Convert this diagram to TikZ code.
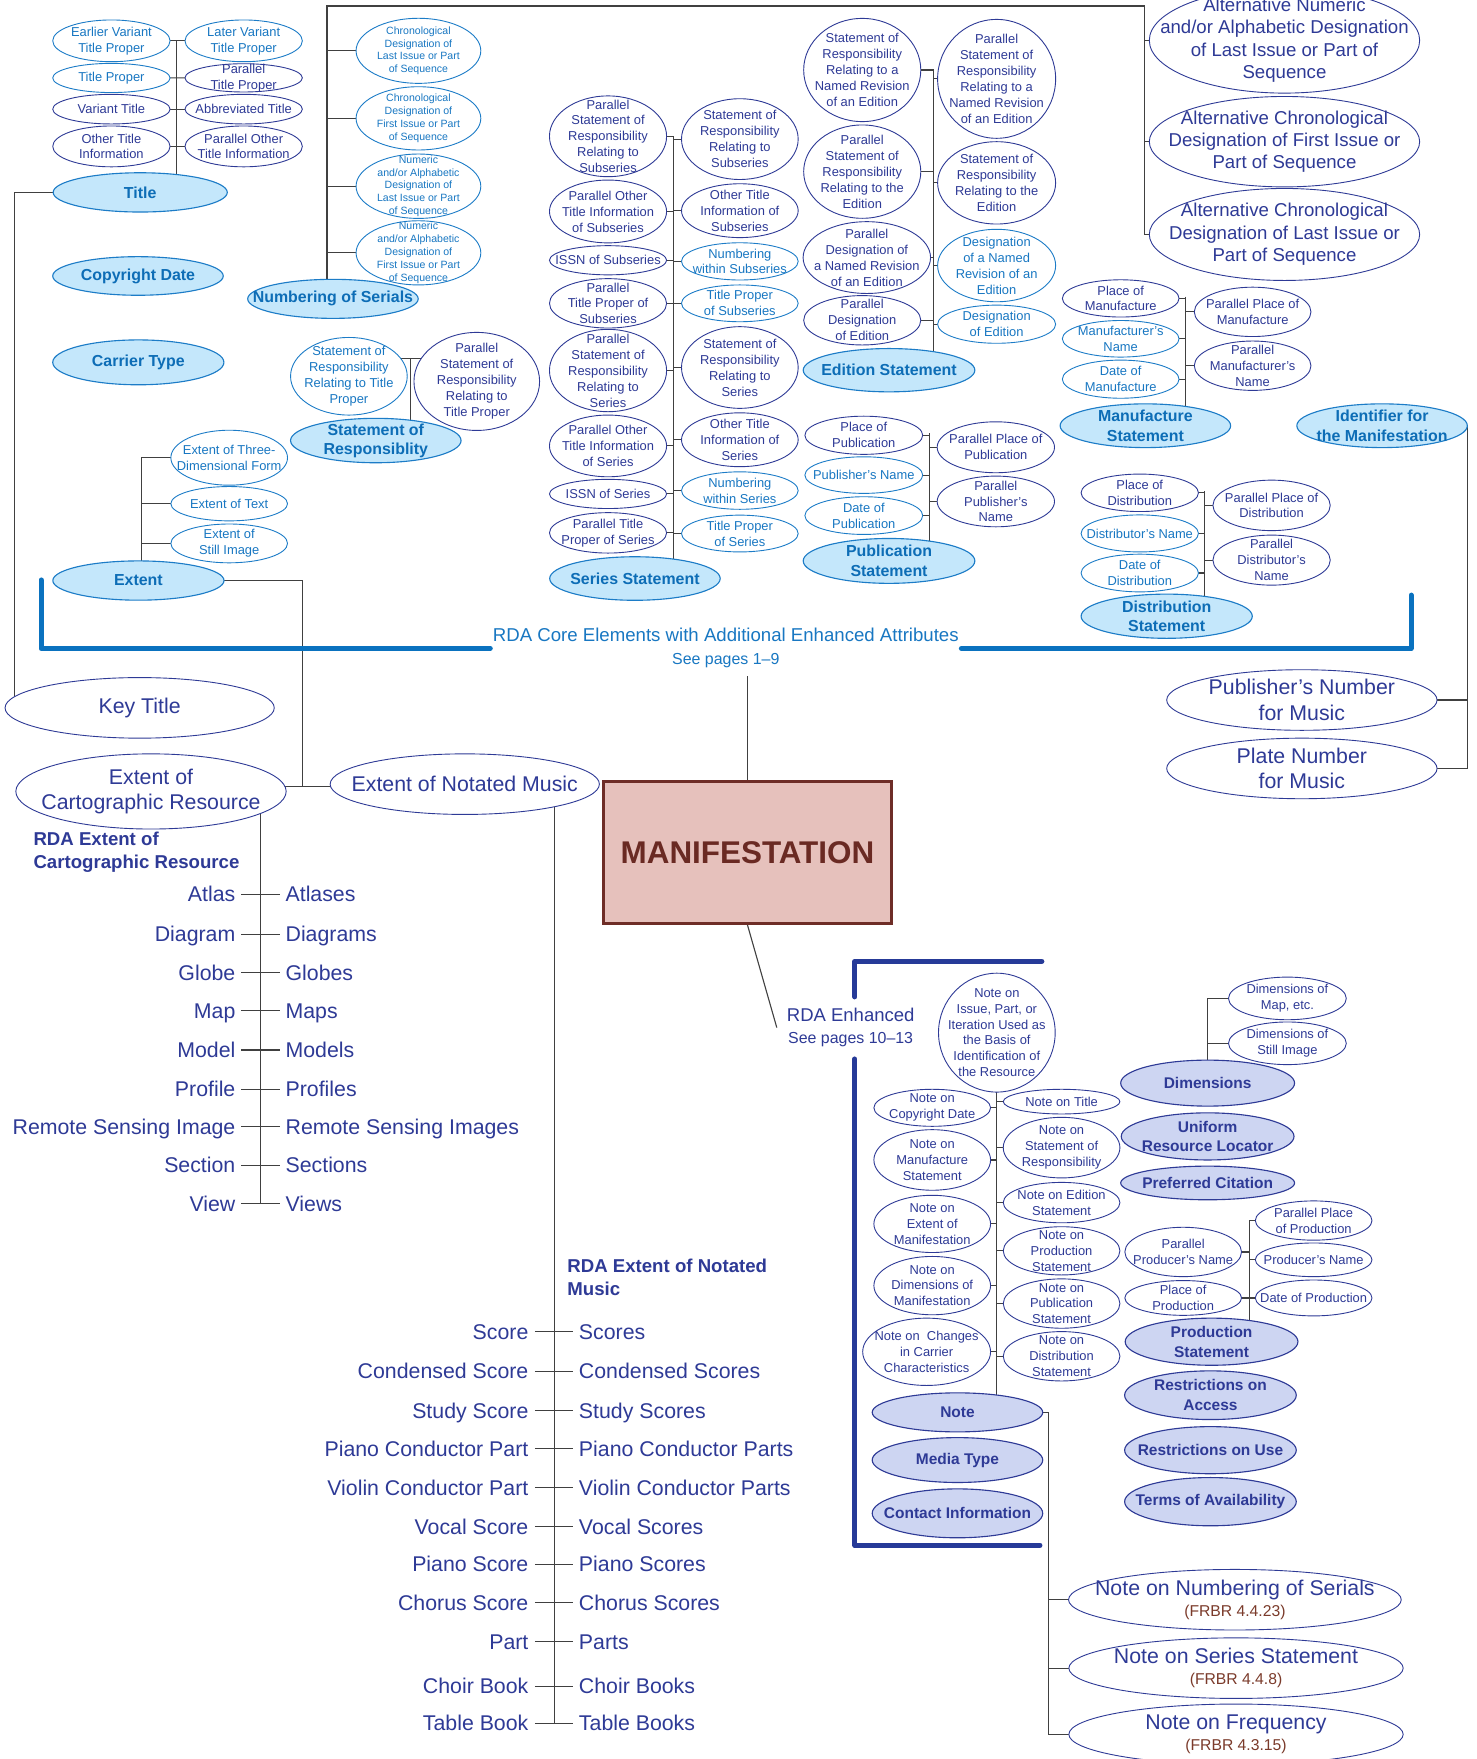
\documentclass[tikz,border=0pt]{standalone}
\usepackage{fontspec}
\setmainfont{Liberation Sans}
\usetikzlibrary{shapes.geometric}
\pgfdeclarelayer{bg}
\pgfdeclarelayer{fg}
\pgfsetlayers{bg,main,fg}

\definecolor{navy}{HTML}{2E3A96}
\definecolor{coreline}{HTML}{1C7CC7}
\definecolor{coretext}{HTML}{1877C2}
\definecolor{corebold}{HTML}{0D6DB6}
\definecolor{corefill}{HTML}{C4E7FB}
\definecolor{lavfill}{HTML}{CDD5F2}
\definecolor{corebar}{HTML}{0A72BF}
\definecolor{enhbar}{HTML}{263A98}
\definecolor{manfill}{HTML}{E6C1BC}
\definecolor{manline}{HTML}{6E2D27}
\definecolor{mantext}{HTML}{6A2A23}
\definecolor{frbr}{HTML}{7B3B2B}
\definecolor{linegray}{HTML}{404040}

\tikzset{
  ebase/.style={ellipse, inner sep=0pt, outer sep=0pt, line width=0.8pt},
  coreE/.style={ebase, draw=coreline, fill=white},
  enhE/.style={ebase, draw=navy, fill=white},
  coreF/.style={ebase, draw=coreline, fill=corefill, line width=1pt},
  lavF/.style={ebase, draw=navy, fill=lavfill, line width=1pt},
  txt/.style={align=center, inner sep=0pt, outer sep=0pt},
  coreT/.style={txt, text=coretext, font=\fontsize{11.5}{14.2}\selectfont},
  enhT/.style={txt, text=navy, font=\fontsize{11.5}{14.2}\selectfont},
  coreS/.style={txt, text=coretext, font=\fontsize{9.4}{11.5}\selectfont},
  coreB/.style={txt, text=corebold, font=\bfseries\fontsize{14.2}{17.2}\selectfont},
  lavB/.style={txt, text=navy, font=\bfseries\fontsize{13.8}{17.5}\selectfont},
  bigT/.style={txt, text=navy, font=\fontsize{19}{23}\selectfont},
  altT/.style={txt, text=navy, font=\fontsize{16.6}{20}\selectfont},
  noteT/.style={txt, text=navy, font=\fontsize{19}{18.5}\selectfont},
  headT/.style={align=left, inner sep=0pt, text=navy, font=\bfseries\fontsize{16.6}{20.5}\selectfont, anchor=west},
  listL/.style={inner sep=0pt, text=navy, font=\fontsize{19}{23}\selectfont, anchor=east, text height=13.6pt, text depth=0pt},
  listR/.style={listL, anchor=west},
  link/.style={draw=linegray, line width=1pt},
  bar/.style={line width=4.5pt, line cap=round, line join=round},
}

% ellipse with its label: shape style, text style, name, x, y, rx, ry, text
\newcommand{\Ell}[8]{%
  \node[#1, minimum width={2*(#6)}, minimum height={2*(#7)}] (#3) at (#4,#5) {};
  \begin{pgfonlayer}{fg}\node[#2] (#3-t) at (#3.center) {#8};\end{pgfonlayer}%
}

\begin{document}
\begin{tikzpicture}[x=1pt,y=-1pt]
\useasboundingbox (0,0) rectangle (1316,1568);
\begin{pgfonlayer}{bg}\fill[white] (0,0) rectangle (1316,1568);\end{pgfonlayer}
\clip (0,0) rectangle (1316,1568);

% ---------- Title ----------
\Ell{coreE}{coreT}{evtp}{99.3}{36.4}{52.3}{18.6}{Earlier Variant\\Title Proper}
\Ell{coreE}{coreT}{lvtp}{217.2}{36.4}{52.3}{18.6}{Later Variant\\Title Proper}
\Ell{coreE}{coreT}{tp}{99.3}{69.5}{52.3}{13}{Title Proper}
\Ell{enhE}{enhT}{ptp}{217.2}{69.4}{52.3}{12.6}{Parallel\\Title Proper}
\Ell{enhE}{enhT}{vt}{99.3}{97.3}{52.3}{13.2}{Variant Title}
\Ell{enhE}{enhT}{abt}{217.2}{97.3}{52.3}{13.2}{Abbreviated Title}
\Ell{enhE}{enhT}{oti}{99.3}{130.5}{52.3}{18.2}{Other Title\\Information}
\Ell{enhE}{enhT}{poti}{217.2}{130.5}{52.3}{18.2}{Parallel Other\\Title Information}
\Ell{coreF}{coreB}{title}{125}{171.5}{77.6}{17.5}{Title}
\Ell{coreF}{coreB}{copy}{123}{246}{76}{17.2}{Copyright Date}
\Ell{coreF}{coreB}{carrier}{123.3}{323}{76.3}{20}{Carrier Type}

% ---------- Numbering of Serials ----------
\Ell{coreE}{coreS}{cdl}{373}{45.3}{55.6}{29}{Chronological\\Designation of\\Last Issue or Part\\of Sequence}
\Ell{coreE}{coreS}{cdf}{373}{105.5}{55.6}{28.2}{Chronological\\Designation of\\First Issue or Part\\of Sequence}
\Ell{coreE}{coreS}{ndl}{373}{166}{55.6}{28.7}{Numeric\\and/or Alphabetic\\Designation of\\Last Issue or Part\\of Sequence}
\Ell{coreE}{coreS}{ndf}{373}{225.4}{55.6}{28.6}{Numeric\\and/or Alphabetic\\Designation of\\First Issue or Part\\of Sequence}
\Ell{coreF}{coreB}{nos}{296.8}{266.4}{76}{17.4}{Numbering of Serials}
\Ell{enhE}{altT}{altn}{1145}{36}{120.5}{47}{Alternative Numeric\\and/or Alphabetic Designation\\of Last Issue or Part of\\Sequence}
\Ell{enhE}{altT}{altf}{1145}{126.3}{120.5}{40.3}{Alternative Chronological\\Designation of First Issue or\\Part of Sequence}
\Ell{enhE}{altT}{altl}{1145}{209}{120.5}{41}{Alternative Chronological\\Designation of Last Issue or\\Part of Sequence}

% ---------- Statement of Responsibility ----------
\Ell{coreE}{coreT}{sortp}{311}{335.4}{52}{34.6}{Statement of\\Responsibility\\Relating to Title\\Proper}
\Ell{enhE}{enhT}{psortp}{425}{340}{56}{43.7}{Parallel\\Statement of\\Responsibility\\Relating to\\Title Proper}
\Ell{coreF}{coreB}{sor}{335}{392.7}{76}{19.8}{Statement of\\Responsiblity}

% ---------- Extent ----------
\Ell{coreE}{coreT}{e3d}{204.3}{408}{52}{24.5}{Extent of Three-\\Dimensional Form}
\Ell{coreE}{coreT}{etext}{204.3}{449}{52}{15.3}{Extent of Text}
\Ell{coreE}{coreT}{estill}{204.3}{484.4}{52}{17.3}{Extent of\\Still Image}
\Ell{coreF}{coreB}{extent}{123.4}{517.5}{76.3}{17.5}{Extent}

% ---------- Series Statement ----------
\Ell{enhE}{enhT}{pssub}{542}{121.5}{52.2}{36}{Parallel\\Statement of\\Responsibility\\Relating to\\Subseries}
\Ell{enhE}{enhT}{ssub}{659.5}{124}{52}{36}{Statement of\\Responsibility\\Relating to\\Subseries}
\Ell{enhE}{enhT}{potsub}{542}{188.5}{52.2}{28}{Parallel Other\\Title Information\\of Subseries}
\Ell{enhE}{enhT}{otsub}{659.5}{187.8}{52}{24}{Other Title\\Information of\\Subseries}
\Ell{enhE}{enhT}{issnsub}{542}{232}{52.2}{13}{ISSN of Subseries}
\Ell{coreE}{coreT}{nsub}{659.5}{233}{52}{16.6}{Numbering\\within Subseries}
\Ell{enhE}{enhT}{ptpsub}{542}{270.4}{52.2}{22}{Parallel\\Title Proper of\\Subseries}
\Ell{coreE}{coreT}{tpsub}{659.5}{270.4}{52}{16.4}{Title Proper\\of Subseries}
\Ell{enhE}{enhT}{psser}{542}{330.3}{52.2}{36.7}{Parallel\\Statement of\\Responsibility\\Relating to\\Series}
\Ell{enhE}{enhT}{sser}{659.5}{327.6}{52}{36.4}{Statement of\\Responsibility\\Relating to\\Series}
\Ell{enhE}{enhT}{potser}{542}{397.5}{52.2}{27.5}{Parallel Other\\Title Information\\of Series}
\Ell{enhE}{enhT}{otser}{659.5}{392}{52}{24}{Other Title\\Information of\\Series}
\Ell{enhE}{enhT}{issnser}{542}{440.3}{52.2}{13}{ISSN of Series}
\Ell{coreE}{coreT}{nser}{659.5}{437.3}{52}{16.7}{Numbering\\within Series}
\Ell{enhE}{enhT}{ptpser}{542}{475}{52.2}{18}{Parallel Title\\Proper of Series}
\Ell{coreE}{coreT}{tpser}{659.5}{475.6}{52}{16.4}{Title Proper\\of Series}
\Ell{coreF}{coreB}{series}{566}{515.7}{76}{19.4}{Series Statement}

% ---------- Edition Statement ----------
\Ell{enhE}{enhT}{sornr}{768.6}{62.4}{52.2}{46}{Statement of\\Responsibility\\Relating to a\\Named Revision\\of an Edition}
\Ell{enhE}{enhT}{psornr}{888.4}{70.3}{52.6}{53}{Parallel\\Statement of\\Responsibility\\Relating to a\\Named Revision\\of an Edition}
\Ell{enhE}{enhT}{psored}{768.6}{153}{52.2}{41.6}{Parallel\\Statement of\\Responsibility\\Relating to the\\Edition}
\Ell{enhE}{enhT}{sored}{888.4}{163}{52.6}{36.7}{Statement of\\Responsibility\\Relating to the\\Edition}
\Ell{enhE}{enhT}{pdnr}{772.7}{229.6}{56.8}{32}{Parallel\\Designation of\\a Named Revision\\of an Edition}
\Ell{coreE}{coreT}{dnr}{888.4}{236.7}{52.6}{32.3}{Designation\\of a Named\\Revision of an\\Edition}
\Ell{enhE}{enhT}{pded}{768.6}{285.5}{52.2}{22}{Parallel\\Designation\\of Edition}
\Ell{coreE}{coreT}{ded}{888.4}{289}{52.6}{17}{Designation\\of Edition}
\Ell{coreF}{coreB}{edition}{792.5}{330}{76.5}{19.3}{Edition Statement}

% ---------- Publication Statement ----------
\Ell{enhE}{enhT}{ppub}{770}{388}{52.5}{17}{Place of\\Publication}
\Ell{coreE}{coreT}{pubn}{770}{423.5}{52.5}{16.3}{Publisher’s Name}
\Ell{coreE}{coreT}{dpub}{770}{459.6}{52.5}{16.8}{Date of\\Publication}
\Ell{enhE}{enhT}{pppub}{887.7}{398.7}{52.3}{22.7}{Parallel Place of\\Publication}
\Ell{enhE}{enhT}{ppubn}{887.7}{447}{52.3}{22.6}{Parallel\\Publisher’s\\Name}
\Ell{coreF}{coreB}{publication}{792.5}{500}{76.5}{20}{Publication\\Statement}

% ---------- Manufacture Statement ----------
\Ell{enhE}{enhT}{pman}{999}{266}{52}{16.6}{Place of\\Manufacture}
\Ell{coreE}{coreT}{mann}{999}{302}{52}{16.3}{Manufacturer’s\\Name}
\Ell{coreE}{coreT}{dman}{999}{338}{52}{17}{Date of\\Manufacture}
\Ell{enhE}{enhT}{ppman}{1116.6}{278}{52}{22}{Parallel Place of\\Manufacture}
\Ell{enhE}{enhT}{pmann}{1116.6}{326}{52}{22}{Parallel\\Manufacturer’s\\Name}
\Ell{coreF}{coreB}{manufacture}{1021}{379.5}{76}{19.5}{Manufacture\\Statement}
\Ell{coreF}{coreB}{ident}{1232}{379.5}{76}{19.5}{Identifier for\\the Manifestation}

% ---------- Distribution Statement ----------
\Ell{enhE}{enhT}{pdist}{1016}{439.3}{52.3}{16.7}{Place of\\Distribution}
\Ell{coreE}{coreT}{distn}{1016}{475.5}{52.3}{16.5}{Distributor’s Name}
\Ell{coreE}{coreT}{ddist}{1016}{510.8}{52.3}{16.8}{Date of\\Distribution}
\Ell{enhE}{enhT}{ppdist}{1133.5}{450.5}{52.3}{22.5}{Parallel Place of\\Distribution}
\Ell{enhE}{enhT}{pdistn}{1133.5}{499.3}{52.3}{22.3}{Parallel\\Distributor’s\\Name}
\Ell{coreF}{coreB}{distribution}{1040}{549.3}{76.3}{19.7}{Distribution\\Statement}

% ---------- identifiers for music ----------
\Ell{enhE}{bigT}{pubnum}{1160.5}{624}{120.5}{27}{Publisher’s Number\\for Music}
\Ell{enhE}{bigT}{plate}{1160.5}{685}{120.5}{27}{Plate Number\\for Music}

% ---------- key title and extents ----------
\Ell{enhE}{bigT}{keytitle}{124.5}{631}{120}{27}{Key Title}
\Ell{enhE}{bigT}{ecr}{134.6}{705.5}{120.5}{33.5}{Extent of\\Cartographic Resource}
\Ell{enhE}{bigT}{enm}{414.3}{699}{120}{27}{Extent of Notated Music}

% ---------- central entity ----------
\node[draw=manline, line width=2.7pt, fill=manfill, minimum width=256.4pt, minimum height=126.3pt,
      text=mantext, font=\bfseries\fontsize{28}{30}\selectfont] (manif) at (666.3,760) {MANIFESTATION};

\node[txt, text=coretext, font=\fontsize{16.6}{20}\selectfont] (coretitle) at (647,566) {RDA Core Elements with Additional Enhanced Attributes};
\node[txt, text=coretext, font=\fontsize{14.2}{17}\selectfont] (seep) at (647,589) {See pages 1–9};
\node[txt, text=navy, font=\fontsize{16.5}{19}\selectfont] (rdaenh) at (758.3,916) {RDA Enhanced\\{\fontsize{14.2}{19}\selectfont See pages 10–13}};

% ---------- Note ----------
\Ell{enhE}{enhT}{issue}{888.6}{920.5}{52}{53}{Note on\\Issue, Part, or\\Iteration Used as\\the Basis of\\Identification of\\the Resource}
\Ell{enhE}{enhT}{ncopy}{831}{987.5}{52}{16.5}{Note on\\Copyright Date}
\Ell{enhE}{enhT}{ntitle}{946.3}{982}{52}{11}{Note on Title}
\Ell{enhE}{enhT}{nman}{831}{1034}{52}{27}{Note on\\Manufacture\\Statement}
\Ell{enhE}{enhT}{nsor}{946.3}{1023}{52}{27}{Note on\\Statement of\\Responsibility}
\Ell{enhE}{enhT}{ned}{946.3}{1072}{52}{18}{Note on Edition\\Statement}
\Ell{enhE}{enhT}{next}{831}{1091}{52}{25.5}{Note on\\Extent of\\Manifestation}
\Ell{enhE}{enhT}{nprod}{946.3}{1115}{52}{21.5}{Note on\\Production\\Statement}
\Ell{enhE}{enhT}{ndim}{831}{1146}{52}{26}{Note on\\Dimensions of\\Manifestation}
\Ell{enhE}{enhT}{npub}{946.3}{1162}{52}{22}{Note on\\Publication\\Statement}
\Ell{enhE}{enhT}{nchg}{826}{1205}{57}{30}{Note on\ \ Changes\\in Carrier\\Characteristics}
\Ell{enhE}{enhT}{ndist}{946.3}{1209}{52}{22}{Note on\\Distribution\\Statement}
\Ell{lavF}{lavB}{note}{853.5}{1259}{76}{17.4}{Note}
\Ell{lavF}{lavB}{media}{853.5}{1301.5}{76}{20}{Media Type}
\Ell{lavF}{lavB}{contact}{853.5}{1349}{76}{21.8}{Contact Information}

% ---------- Dimensions, URL, Production, access ----------
\Ell{enhE}{enhT}{dmap}{1147.6}{890}{52.5}{19}{Dimensions of\\Map, etc.}
\Ell{enhE}{enhT}{dstill}{1147.6}{930}{52.5}{19}{Dimensions of\\Still Image}
\Ell{lavF}{lavB}{dims}{1076.5}{965.5}{77.5}{20.5}{Dimensions}
\Ell{lavF}{lavB}{url}{1076.5}{1013}{77}{21}{Uniform\\Resource Locator}
\Ell{lavF}{lavB}{cite}{1076.5}{1054.5}{77.5}{15}{Preferred Citation}
\Ell{enhE}{enhT}{ppprod}{1171}{1088}{52}{17.5}{Parallel Place\\of Production}
\Ell{enhE}{enhT}{prodn}{1171}{1123}{52}{15}{Producer’s Name}
\Ell{enhE}{enhT}{dprod}{1171}{1157}{52}{16}{Date of Production}
\Ell{enhE}{enhT}{pprodn}{1054.7}{1116}{52}{22}{Parallel\\Producer’s Name}
\Ell{enhE}{enhT}{pprod}{1054.7}{1157}{52}{15.5}{Place of\\Production}
\Ell{lavF}{lavB}{production}{1080}{1196}{77}{21}{Production\\Statement}
\Ell{lavF}{lavB}{raccess}{1079}{1243.7}{76.5}{21.7}{Restrictions on\\Access}
\Ell{lavF}{lavB}{ruse}{1079}{1292.7}{76.5}{21}{Restrictions on Use}
\Ell{lavF}{lavB}{terms}{1079}{1338.6}{76.5}{21.5}{Terms of Availability}

% ---------- notes with FRBR references ----------
\Ell{enhE}{noteT}{nnos}{1100.8}{1426}{148.3}{27}{Note on Numbering of Serials\\{\fontsize{14}{18.5}\selectfont\color{frbr}(FRBR 4.4.23)}}
\Ell{enhE}{noteT}{nss}{1101.8}{1487}{149}{27}{Note on Series Statement\\{\fontsize{14}{18.5}\selectfont\color{frbr}(FRBR 4.4.8)}}
\Ell{enhE}{noteT}{nfreq}{1101.8}{1546}{149}{27}{Note on Frequency\\{\fontsize{14}{18.5}\selectfont\color{frbr}(FRBR 4.3.15)}}

% ---------- RDA extent vocabularies ----------
\node[headT] (hcart) at (29.7,760) {RDA Extent of\\Cartographic Resource};
\node[headT] (hmus) at (505.6,1138.4) {RDA Extent of Notated\\Music};

\foreach \aa/\bb/\yy [count=\ii] in {Atlas/Atlases/797, Diagram/Diagrams/832.8, Globe/Globes/866.8,
  Map/Maps/901, Model/Models/936, Profile/Profiles/970.8, Remote Sensing Image/Remote Sensing Images/1004.2,
  Section/Sections/1038.6, View/Views/1072.8} {
  \node[listL] (cl\ii) at (210,\yy) {\aa};
  \node[listR] (cr\ii) at (254.4,\yy) {\bb};
  \begin{pgfonlayer}{bg}\draw[link] ([xshift=5pt]cl\ii.east) -- ([xshift=-5pt]cr\ii.west);\end{pgfonlayer}
}

\foreach \aa/\bb/\yy [count=\ii] in {Score/Scores/1187, Condensed Score/Condensed Scores/1222.3,
  Study Score/Study Scores/1257.3, Piano Conductor Part/Piano Conductor Parts/1291.3,
  Violin Conductor Part/Violin Conductor Parts/1326.3, Vocal Score/Vocal Scores/1360.8,
  Piano Score/Piano Scores/1394.3, Chorus Score/Chorus Scores/1428.6, Part/Parts/1463.5,
  Choir Book/Choir Books/1503, Table Book/Table Books/1536.2} {
  \node[listL] (ml\ii) at (471.2,\yy) {\aa};
  \node[listR] (mr\ii) at (515.9,\yy) {\bb};
  \begin{pgfonlayer}{bg}\draw[link] ([xshift=5.5pt]ml\ii.east) -- ([xshift=-5.5pt]mr\ii.west);\end{pgfonlayer}
}

% ---------- junction points ----------
\coordinate (jT) at (157.5,36.4);
\coordinate (jK) at (13,171.5);
\coordinate (jN) at (291.5,5.3);
\coordinate (jA) at (1020,5.3);
\coordinate (jS) at (366,319.5);
\coordinate (jE) at (125.8,408);
\coordinate (jX) at (270,701);
\coordinate (jC) at (232,705.5);
\coordinate (jM) at (494.3,699);
\coordinate (jP) at (666.3,603);
\coordinate (jI) at (1308,379.5);
\coordinate (jSe) at (600.2,121.5);
\coordinate (jEd) at (832.5,62.4);
\coordinate (jPu) at (828.3,386);
\coordinate (jMa) at (1057,264.5);
\coordinate (jDi) at (1073.5,437.5);
\coordinate (jNe) at (935,1259);
\coordinate (jD) at (1076.4,890);
\coordinate (jPr) at (1113.8,1088);

% ---------- connectors (behind the shapes) ----------
\begin{pgfonlayer}{bg}
  % title
  \draw[link] (jT) -- (jT |- title.center);
  \draw[link] (evtp.center) -- (lvtp.center);
  \draw[link] (tp.center) -- (ptp.center);
  \draw[link] (vt.center) -- (abt.center);
  \draw[link] (oti.center) -- (poti.center);
  \draw[link] (title.center) -- (jK) -- (jK |- keytitle.center);
  % numbering of serials
  \draw[link] (jN |- nos.center) -- (jN) -- (jA) -- (jA |- altl.center) -- (altl.center);
  \foreach \nn in {cdl,cdf,ndl,ndf} \draw[link] (jN |- \nn.center) -- (\nn.center);
  \foreach \nn in {altn,altf} \draw[link] (jA |- \nn.center) -- (\nn.center);
  % statement of responsibility
  \draw[link] (sortp.center |- jS) -- (psortp.center |- jS);
  \draw[link] (jS) -- (jS |- sor.center);
  % extent
  \draw[link] (jE) -- (jE |- extent.center);
  \foreach \nn in {e3d,etext,estill} \draw[link] (jE |- \nn.center) -- (\nn.center);
  \draw[link] (extent.center) -| (jX);
  \draw[link] (ecr.center |- jX) -- (enm.center |- jX);
  \draw[link] (jC) -- (jC |- cl9.center);
  \draw[link] (jM) -- (jM |- ml11.center);
  % series
  \draw[link] (jSe) -- (jSe |- series.center);
  \foreach \nn in {pssub,ssub,potsub,otsub,issnsub,nsub,ptpsub,tpsub,psser,sser,potser,otser,issnser,nser,ptpser,tpser}
    \draw[link] (\nn.center) -- (jSe |- \nn.center);
  % edition
  \draw[link] (jEd) -- (jEd |- edition.center);
  \foreach \nn in {sornr,psornr,psored,sored,pdnr,dnr,pded,ded}
    \draw[link] (\nn.center) -- (jEd |- \nn.center);
  % publication
  \draw[link] (jPu) -- (jPu |- publication.center);
  \foreach \nn in {ppub,pubn,dpub,pppub,ppubn} \draw[link] (\nn.center) -- (jPu |- \nn.center);
  % manufacture
  \draw[link] (jMa) -- (jMa |- manufacture.center);
  \foreach \nn in {pman,mann,dman,ppman,pmann} \draw[link] (\nn.center) -- (jMa |- \nn.center);
  % distribution
  \draw[link] (jDi) -- (jDi |- distribution.center);
  \foreach \nn in {pdist,distn,ddist,ppdist,pdistn} \draw[link] (\nn.center) -- (jDi |- \nn.center);
  % identifier
  \draw[link] (ident.center) -- (jI) -- (jI |- plate.center) -- (plate.center);
  \draw[link] (jI |- pubnum.center) -- (pubnum.center);
  % manifestation
  \draw[link] (jP) -- (manif.center);
  \draw[link] (manif.south) -- ([xshift=-9pt]rdaenh.west);
  % note
  \draw[link] (issue.center) -- (issue.center |- note.center);
  \foreach \nn in {ncopy,ntitle,nman,nsor,ned,next,nprod,ndim,npub,nchg,ndist}
    \draw[link] (\nn.center) -- (issue.center |- \nn.center);
  \draw[link] (note.center) -- (jNe) -- (jNe |- nfreq.center) -- (nfreq.center);
  \foreach \nn in {nnos,nss} \draw[link] (jNe |- \nn.center) -- (\nn.center);
  % dimensions
  \draw[link] (jD) -- (jD |- dims.center);
  \foreach \nn in {dmap,dstill} \draw[link] (jD |- \nn.center) -- (\nn.center);
  % production
  \draw[link] (jPr) -- (jPr |- production.center);
  \foreach \nn in {ppprod,prodn,dprod,pprodn,pprod} \draw[link] (\nn.center) -- (jPr |- \nn.center);
\end{pgfonlayer}

% ---------- grouping brackets ----------
\draw[bar, corebar] (36.6,517) -- (36.6,578) -- (437,578);
\draw[bar, corebar] (857,578) -- (1257.8,578) -- (1257.8,530.5);
\draw[bar, enhbar] (928.7,857) -- (762,857) -- (762,888.6);
\draw[bar, enhbar] (762,944) -- (762,1377.5) -- (927,1377.5);

\end{tikzpicture}
\end{document}
